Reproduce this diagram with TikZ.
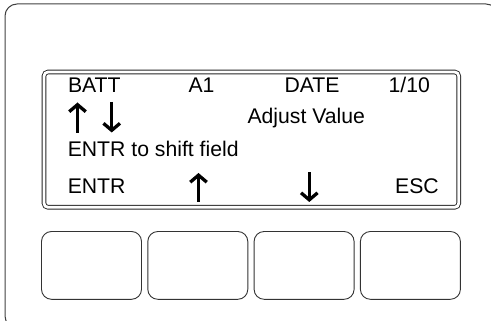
\documentclass[tikz,border=0pt]{standalone}
\usepackage{fontspec}
\setmainfont{Liberation Sans}
\usetikzlibrary{arrows.meta}
\tikzset{
  lcdtext/.style={anchor=base west,inner sep=0pt,font=\fontsize{21.2}{25}\selectfont},
  softkey/.style={draw=black!80,line width=0.9pt,rounded corners=10pt},
  lcdarrow/.style={line width=2.8pt,-{Straight Barb[length=7pt,width=16.5pt,line width=3.3pt]}}
}
\begin{document}
\begin{tikzpicture}[x=1pt,y=1pt,yscale=-1,xscale=1]
  \useasboundingbox (0,0) rectangle (491,321);
  %Shape: Housing
  \begin{scope}
    \clip (0,0) rectangle (491,321);
    \draw [draw=black!75,line width=1pt,rounded corners=12pt] (5,4) rectangle (498,328);
  \end{scope}
  %Shape: Display frame
  \draw [draw=black!85,line width=0.9pt,double,double distance=2.8pt,rounded corners=4pt] (44,72) rectangle (458.7,207.3);

  % Text Node
  \node [lcdtext] (batt) at (67.8,92.3) {BATT};
  % Text Node
  \node [lcdtext] (chan) at (188.3,92.3) {A1};
  % Text Node
  \node [lcdtext] (date) at (284.3,92.3) {DATE};
  % Text Node
  \node [lcdtext] (page) at (388.5,92.3) {1/10};
  % Text Node
  \node [lcdtext] (adjust) at (247.3,124) {Adjust Value};
  % Text Node
  \node [lcdtext] (shift) at (67.6,157) {ENTR to shift field};
  % Text Node
  \node [lcdtext] (entr) at (67.6,193.3) {ENTR};
  % Text Node
  \node [lcdtext] (esc) at (395,193.3) {ESC};

  %Shape: Arrows
  \draw [lcdarrow] (77.5,133) -- (77.5,102.5);
  \draw [lcdarrow] (111.7,102) -- (111.7,132.5);
  \draw [lcdarrow] (198.5,202) -- (198.5,173);
  \draw [lcdarrow] (309.3,172.5) -- (309.3,202);

  %Shape: Soft keys
  \foreach \k in {0,...,3}
    \draw [softkey] (41.5+\k*106.3,231.5) rectangle (141.5+\k*106.3,299.3);
\end{tikzpicture}
\end{document}
